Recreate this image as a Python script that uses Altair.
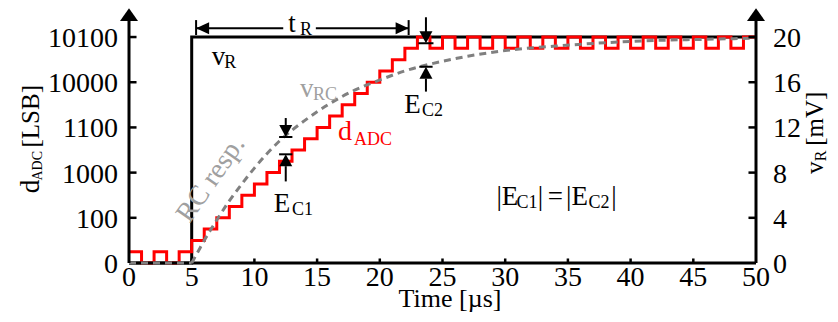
import altair as alt
import pandas as pd

FONT = "Liberation Serif"

# ---------------- data ----------------
# ADC output code (1 LSB = 1 mV), one sample per microsecond
adc_t = list(range(0, 51))
adc_v = [1, 0, 1, 0, 1,
         2, 3, 4, 5, 6, 7, 8, 9, 10, 11, 12, 13, 14, 15, 16, 17, 18, 19, 20,
         19, 20, 19, 20, 19, 20, 19, 20, 19, 20, 19, 20, 19, 20,
         19, 20, 19, 20, 19, 20, 19, 20, 19, 20, 19, 20,
         20]

# ideal step input v_R
vr_t = [0, 5, 5, 50]
vr_v = [0, 0, 20, 20]

# RC response (two pieces: flat before the step, rising after it)
rc_base_t = [0, 5]
rc_base_v = [0, 0]
rc_t = [5, 5.5, 6, 7, 8, 9, 10, 12, 14, 16, 18, 20, 22, 24, 27, 30, 34, 38, 42, 46, 50]
rc_v = [0, 1.0, 2.0, 3.8, 5.5, 7.0, 8.4, 10.8, 12.6, 14.1, 15.3, 16.2, 17.0, 17.6,
        18.3, 18.8, 19.2, 19.5, 19.7, 19.8, 19.9]

# ticks
x_ticks = [0, 5, 10, 15, 20, 25, 30, 35, 40, 45, 50]
y_ticks = [0, 4, 8, 12, 16, 20]
y_left_labels = ["0", "100", "1000", "1100", "10000", "10100"]
y_right_labels = ["0", "4", "8", "12", "16", "20"]

# annotation anchors (data units)
tr_start, tr_end, tr_level = 5.35, 22.3, 20.77
ec1_t, ec1_gray, ec1_red = 12.5, 11.15, 9.62
ec2_t, ec2_red, ec2_gray = 23.68, 19.45, 17.37

# ---------------- scales ----------------
xs = alt.Scale(domain=[0, 50], nice=False, zero=False)
ys = alt.Scale(domain=[0, 22.57], nice=False, zero=False)


def X(f="t"):
    return alt.X(f"{f}:Q", scale=xs, axis=None)


def Y(f="v"):
    return alt.Y(f"{f}:Q", scale=ys, axis=None)


def rules(rows, width=3, color="black"):
    df = pd.DataFrame(rows, columns=["t", "t2", "v", "v2"])
    return alt.Chart(df).mark_rule(strokeWidth=width, color=color, strokeCap="butt").encode(
        x=X(), x2="t2:Q", y=Y(), y2="v2:Q")


def tri(rows, path, size, color="black"):
    df = pd.DataFrame(rows, columns=["t", "v"])
    return alt.Chart(df).mark_point(shape=path, filled=True, size=size, color=color,
                                    opacity=1, strokeWidth=0).encode(x=X(), y=Y())


def texts(rows, size, color="black", align="left", baseline="alphabetic", angle=0, dx=0, dy=0):
    df = pd.DataFrame(rows, columns=["t", "v", "s"])
    return alt.Chart(df).mark_text(font=FONT, fontSize=size, color=color, align=align,
                                   baseline=baseline, angle=angle, dx=dx, dy=dy).encode(
        x=X(), y=Y(), text="s:N")


# ---------------- series ----------------
vr_df = pd.DataFrame({"t": vr_t, "v": vr_v, "i": range(len(vr_t))})
vr_line = alt.Chart(vr_df).mark_line(color="black", strokeWidth=3, strokeJoin="miter").encode(
    x=X(), y=Y(), order="i:Q")

adc_df = pd.DataFrame({"t": adc_t, "v": adc_v})
adc_line = alt.Chart(adc_df).mark_line(color="#ff0000", strokeWidth=3, interpolate="step-after",
                                       strokeJoin="miter").encode(x=X(), y=Y())

rc_df = pd.concat([
    pd.DataFrame({"t": rc_base_t, "v": rc_base_v, "seg": "a"}),
    pd.DataFrame({"t": rc_t, "v": rc_v, "seg": "b"}),
])
rc_line = alt.Chart(rc_df).mark_line(color="#808080", strokeWidth=3, strokeDash=[7, 5],
                                     interpolate="monotone").encode(x=X(), y=Y(), detail="seg:N")

# ---------------- axes drawn by hand ----------------
x_axis_line = rules([(0, 50, 0, 0)])
x_tick_marks = rules([(t, t, 0, 0.4) for t in x_ticks[1:-1]], width=2.5)
y_axis_lines = rules([(0, 0, 0, 21.5), (50, 50, 0, 21.5)])
y_tick_marks = rules([(0, 0.6, v, v) for v in y_ticks[1:]] +
                     [(49.4, 50, v, v) for v in y_ticks[1:]], width=2.5)
axis_heads = tri([(0, 21.98), (50, 21.98)], "M0,-0.7L1,0.7L-1,0.7Z", 324)

x_labels = texts([(t, 0, str(t)) for t in x_ticks], 28, align="center", dy=23)
yl_labels = texts([(0, v, s) for v, s in zip(y_ticks, y_left_labels)], 28, align="right", dx=-11, dy=10)
yr_labels = texts([(50, v, s) for v, s in zip(y_ticks, y_right_labels)], 28, align="left", dx=17, dy=10)

x_title = texts([(25.6, -3.93, "Time [µs]")], 26, align="center")
yl_title = alt.layer(
    texts([(-7.18, 6.17, "d")], 27, angle=270),
    texts([(-6.9, 7.3, "ADC")], 14, angle=270),
    texts([(-7.18, 10.22, "[LSB]")], 25, angle=270),
)
yr_title = alt.layer(
    texts([(55.35, 7.88, "v")], 25, angle=270),
    texts([(55.62, 9.0, "R")], 16, angle=270),
    texts([(55.35, 10.37, "[mV]")], 25, angle=270),
)

# ---------------- annotations ----------------
tr_lines = rules([(tr_start, 12.3, tr_level, tr_level), (14.9, tr_end, tr_level, tr_level)], width=2)
tr_bars = rules([(tr_start, tr_start, 20.18, 21.5), (tr_end, tr_end, 20.18, 21.5)], width=2)
tr_heads = alt.layer(
    tri([(tr_start + 0.52, tr_level)], "M-1,0L1,-0.92L1,0.92Z", 169),
    tri([(tr_end - 0.52, tr_level)], "M1,0L-1,-0.92L-1,0.92Z", 169),
)

ec_lines = rules([
    (ec1_t, ec1_t, ec1_gray + 1.68, ec1_gray + 0.5),
    (ec1_t, ec1_t, ec1_red - 1.05, ec1_red - 2.4),
    (ec2_t, ec2_t, ec2_red + 2.3, ec2_red + 0.5),
    (ec2_t, ec2_t, ec2_gray - 1.05, ec2_gray - 2.2),
], width=2)
ec_bars = rules([
    (ec1_t - 0.53, ec1_t + 0.53, ec1_gray, ec1_gray),
    (ec1_t - 0.53, ec1_t + 0.53, ec1_red, ec1_red),
    (ec2_t - 0.6, ec2_t + 0.6, ec2_red, ec2_red),
    (ec2_t - 0.53, ec2_t + 0.53, ec2_gray, ec2_gray),
], width=2)
ec_heads = alt.layer(
    tri([(ec1_t, ec1_gray + 0.53), (ec2_t, ec2_red + 0.53)], "M0,0.92L-1,-0.92L1,-0.92Z", 169),
    tri([(ec1_t, ec1_red - 0.53), (ec2_t, ec2_gray - 0.53)], "M0,-0.92L-1,0.92L1,0.92Z", 169),
)

black_main = texts([
    (6.59, 17.52, "v"), (11.55, 4.54, "E"), (21.95, 13.28, "E"), (12.7, 20.47, "t"),
    (29.3, 5.13, "|E"), (32.6, 5.13, "|"), (33.4, 5.13, "="), (34.85, 5.13, "|E"), (38.45, 5.13, "|"),
], 27)
black_sub = texts([
    (7.6, 17.26, "R"), (13.0, 4.25, "C1"), (23.37, 13.01, "C2"), (13.64, 20.22, "R"),
    (30.9, 4.87, "C1"), (36.65, 4.87, "C2"),
], 18)
gray_txt = alt.layer(
    texts([(13.64, 14.69, "v")], 27, color="#a0a0a0"),
    texts([(14.67, 14.43, "RC")], 18, color="#a0a0a0"),
    texts([(6.54, 7.4, "RC resp.")], 28, color="#a0a0a0", align="center", baseline="middle", angle=305),
)
red_txt = alt.layer(
    texts([(16.67, 10.89, "d")], 28, color="#ff0000"),
    texts([(17.95, 10.44, "ADC")], 18, color="#ff0000"),
)

chart = alt.layer(
    vr_line, adc_line, x_axis_line, x_tick_marks, rc_line,
    y_axis_lines, y_tick_marks, axis_heads,
    x_labels, yl_labels, yr_labels, x_title, yl_title, yr_title,
    tr_lines, tr_bars, tr_heads, ec_lines, ec_bars, ec_heads,
    black_main, black_sub, gray_txt, red_txt,
).properties(
    width=627, height=255,
    autosize=alt.AutoSizeParams(type="none"),
    padding={"left": 121, "top": 0, "right": 74, "bottom": 51},
).configure_view(stroke=None)

chart.save("out.html", embed_options={"renderer": "svg", "actions": False})
